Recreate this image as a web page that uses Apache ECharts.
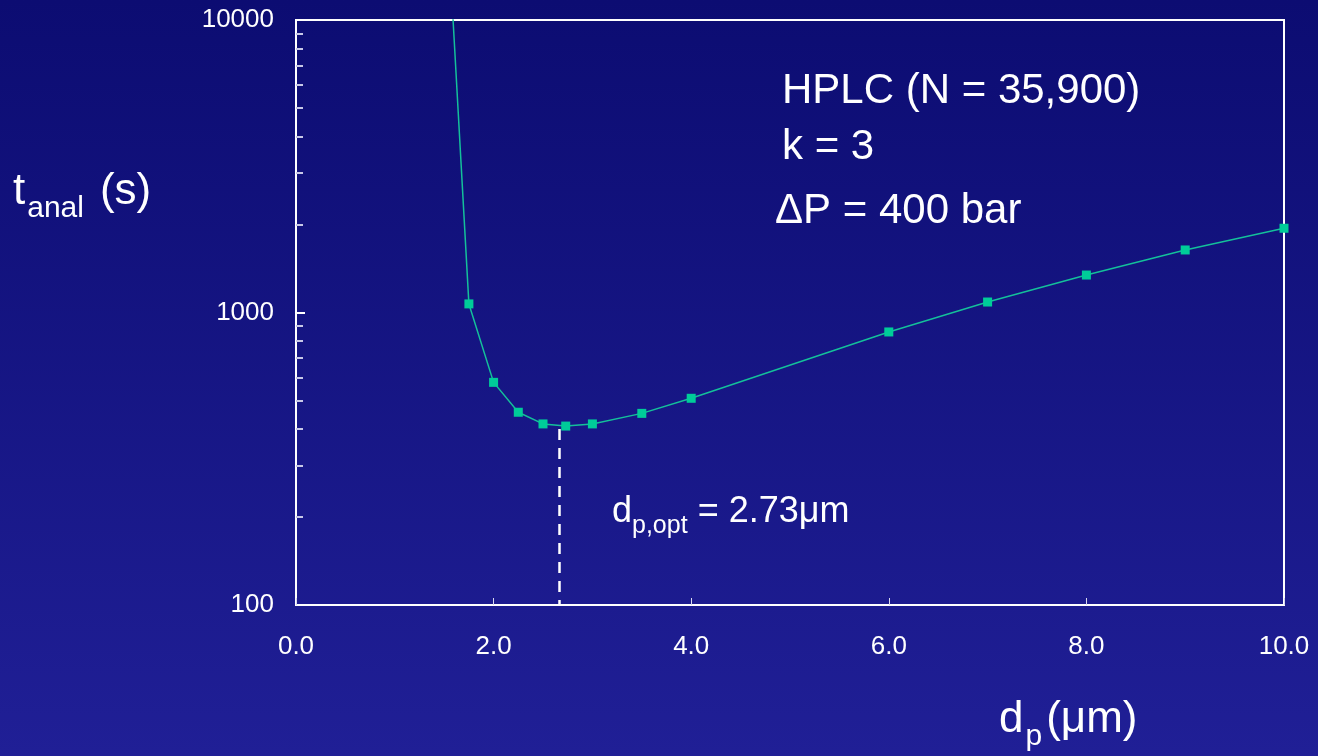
<!DOCTYPE html>
<html>
<head>
<meta charset="utf-8">
<title>t_anal vs d_p</title>
<script src="https://cdn.jsdelivr.net/npm/echarts@6/dist/echarts.min.js"></script>
<style>
html, body { margin: 0; padding: 0; }
#chart { width: 1318px; height: 756px; }
</style>
</head>
<body>
<div id="chart"></div>
<script>
// data
var dp = [1.5, 1.75, 2.0, 2.25, 2.5, 2.73, 3.0, 3.5, 4.0, 6.0, 7.0, 8.0, 9.0, 10.0];
var tAnal = [35000, 1070, 577, 456, 416, 409, 416, 452, 509, 858, 1086, 1343, 1636, 1941];
var dpOpt = 2.66;       // where the dashed line is drawn
var dpOptTop = 400;     // top of the dashed line
var xTicks = [0, 10, 2];
var yTicks = [100, 10000];

var font = 'Liberation Sans, Arial, sans-serif';

var dom = document.getElementById('chart');
var myChart = echarts.init(dom, null, { renderer: 'canvas' });

var points = dp.map(function (x, i) { return [x, tAnal[i]]; });

var option = {
	animation: false,
	backgroundColor: new echarts.graphic.LinearGradient(0, 0, 0, 1, [
		{ offset: 0, color: '#0c0c72' },
		{ offset: 1, color: '#201f96' }
	]),
	grid: {
		left: 296, right: 34, top: 20, bottom: 151,
		show: true, borderColor: '#ffffff', borderWidth: 2, backgroundColor: 'transparent'
	},
	xAxis: {
		type: 'value',
		min: xTicks[0], max: xTicks[1], interval: xTicks[2],
		axisLine: { lineStyle: { color: '#ffffff', width: 2 } },
		axisTick: { inside: true, length: 7, lineStyle: { color: '#d8d8ee', width: 1 } },
		splitLine: { show: false },
		axisLabel: {
			color: '#ffffff', fontSize: 26, fontFamily: font, margin: 29,
			formatter: function (v) { return v.toFixed(1); }
		}
	},
	yAxis: {
		type: 'log', logBase: 10,
		min: yTicks[0], max: yTicks[1],
		axisLine: { lineStyle: { color: '#ffffff', width: 2 } },
		axisTick: { inside: true, length: 9, lineStyle: { color: '#ffffff', width: 2 } },
		minorTick: { show: true, splitNumber: 9, length: 7, lineStyle: { color: '#c8c8e8', width: 2 } },
		splitLine: { show: false },
		axisLabel: {
			color: '#ffffff', fontSize: 26, fontFamily: font, margin: 22,
			formatter: function (v) { return String(Math.round(v)); }
		}
	},
	series: [{
		type: 'line',
		data: points,
		clip: true,
		symbol: 'rect',
		symbolSize: 9,
		showSymbol: true,
		itemStyle: { color: '#00cc99' },
		lineStyle: { color: '#14c09a', width: 1.5 },
		markLine: {
			silent: true,
			symbol: 'none',
			label: { show: false },
			lineStyle: { color: '#ffffff', width: 2.5, type: [11, 8] },
			data: [[{ coord: [dpOpt, dpOptTop] }, { coord: [dpOpt, yTicks[0]] }]]
		}
	}],
	graphic: [
		{
			type: 'text', left: 782, top: 70,
			style: { text: 'HPLC (N = 35,900)', fill: '#ffffff', font: '42px ' + font }
		},
		{
			type: 'text', left: 782, top: 126,
			style: { text: 'k = 3', fill: '#ffffff', font: '42px ' + font }
		},
		{
			type: 'text', left: 775, top: 190,
			style: { text: '\u0394P = 400 bar', fill: '#ffffff', font: '42px ' + font }
		},
		{
			type: 'text', left: 612, top: 494,
			style: {
				text: '{a|d}{b|p,opt}{a| = 2.73\u03bcm}',
				fill: '#ffffff',
				rich: {
					a: { fontSize: 36, fontFamily: font, color: '#ffffff', verticalAlign: 'top', lineHeight: 40 },
					b: { fontSize: 25, fontFamily: font, color: '#ffffff', verticalAlign: 'top', padding: [20, 0, 0, 0] }
				}
			}
		},
		{
			type: 'text', left: 13, top: 170,
			style: {
				text: '{a|t}{b|anal}{c|(s)}',
				fill: '#ffffff',
				rich: {
					a: { fontSize: 44, fontFamily: font, color: '#ffffff', verticalAlign: 'top', lineHeight: 50 },
					b: { fontSize: 30, fontFamily: font, color: '#ffffff', verticalAlign: 'top', padding: [24, 0, 0, 2] },
					c: { fontSize: 44, fontFamily: font, color: '#ffffff', verticalAlign: 'top', lineHeight: 50, padding: [0, 0, 0, 16] }
				}
			}
		},
		{
			type: 'text', left: 999, top: 698,
			style: {
				text: '{a|d}{b|p}{c|(\u03bcm)}',
				fill: '#ffffff',
				rich: {
					a: { fontSize: 44, fontFamily: font, color: '#ffffff', verticalAlign: 'top', lineHeight: 50 },
					b: { fontSize: 30, fontFamily: font, color: '#ffffff', verticalAlign: 'top', padding: [24, 0, 0, 2] },
					c: { fontSize: 44, fontFamily: font, color: '#ffffff', verticalAlign: 'top', lineHeight: 50, padding: [0, 0, 0, 4] }
				}
			}
		}
	]
};

myChart.setOption(option);
window.addEventListener('resize', myChart.resize);
</script>
</body>
</html>
